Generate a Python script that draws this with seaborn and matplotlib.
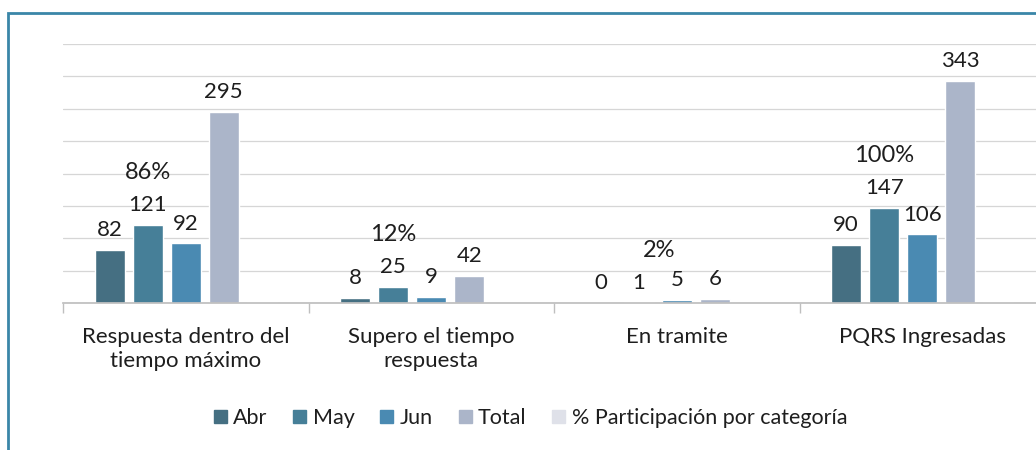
import numpy as np
import pandas as pd
import matplotlib
matplotlib.use('Agg')
import matplotlib.pyplot as plt
import seaborn as sns
from matplotlib.patches import Rectangle

# datos
categorias = ['Respuesta dentro del\ntiempo máximo', 'Supero el tiempo\nrespuesta', 'En tramite', 'PQRS Ingresadas']
series = ['Abr', 'May', 'Jun', 'Total', '% Participación por categoría']
abr = [82, 8, 0, 90]
may = [121, 25, 1, 147]
jun = [92, 9, 5, 106]
total = [295, 42, 6, 343]
participacion = [0.86, 0.12, 0.02, 1.00]
pct_labels = ['86%', '12%', '2%', '100%']

colores = ['#456f82', '#467f98', '#4a8ab2', '#abb5c9', '#dfe1e9']

sns.set_theme(style='white')
plt.rcParams['font.family'] = ['Lato', 'DejaVu Sans']

df = pd.DataFrame({
    'categoria': categorias * 5,
    'serie': np.repeat(series, 4),
    'valor': abr + may + jun + total + participacion,
})

fig = plt.figure(figsize=(10.36, 4.5), dpi=100)
ax = fig.add_axes([63 / 1036, 147 / 450, 982 / 1036, 259 / 450])

sns.barplot(data=df, x='categoria', y='valor', hue='serie', hue_order=series,
            order=categorias, palette=colores, width=0.775, gap=0.21,
            saturation=1, legend=False, ax=ax)

ax.set_ylim(0, 400)
ax.set_yticks(np.arange(0, 401, 50))
ax.yaxis.grid(True, color='#d6d6d6', linewidth=0.9)
ax.set_axisbelow(True)
ax.tick_params(axis='y', left=False, labelleft=False)
for s in ['top', 'right', 'left']:
    ax.spines[s].set_visible(False)
ax.spines['bottom'].set_color('#bfbfbf')
ax.set_xlabel('')
ax.set_ylabel('')

ax.set_xticks(np.arange(-0.5, 4, 1), minor=True)
ax.tick_params(axis='x', which='minor', length=7, color='#bfbfbf', bottom=True)
ax.tick_params(axis='x', which='major', length=0, pad=17, labelsize=16, colors='#1e1e1e')
for t in ax.get_xticklabels():
    t.set_linespacing(1.3)
ax.set_xlim(-0.5, 3.5)

# etiquetas de valores
for cont in ax.containers[:4]:
    ax.bar_label(cont, fmt='%d', padding=7, fontsize=16, color='#1e1e1e')

# etiquetas de porcentaje sobre la barra de mayo
dx = [0, 0, 20, 0]
for bar, lab, d in zip(ax.containers[1], pct_labels, dx):
    ax.annotate(lab, (bar.get_x() + bar.get_width() / 2, bar.get_height()),
                xytext=(d, 52), textcoords='offset pixels',
                ha='center', va='center', fontsize=17, color='#1e1e1e')

handles = [Rectangle((0, 0), 1, 1, color=c) for c in colores]
fig.legend(handles, series, loc='center', bbox_to_anchor=(0.512, 0.071), ncol=5,
           frameon=False, fontsize=15.5, handlelength=0.6, handleheight=0.6,
           handletextpad=0.3, columnspacing=1.2, labelcolor='#1e1e1e')

# marco
fig.add_artist(Rectangle((8 / 1036, -0.1), 1.2, 0.1 + 1 - 13 / 450,
                         transform=fig.transFigure, fill=False,
                         edgecolor='#3a86a8', linewidth=2))

fig.savefig('out.png', dpi=100)
